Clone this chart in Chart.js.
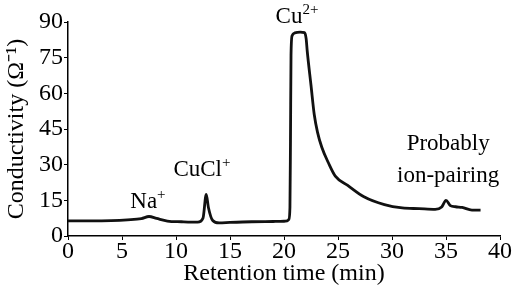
<!DOCTYPE html>
<html>
<head>
<meta charset="utf-8">
<script src="https://cdn.jsdelivr.net/npm/chart.js@4/dist/chart.umd.min.js"></script>
<style>
  html, body { margin: 0; padding: 0; background: #fff; }
  #wrap { width: 512px; height: 291px; }
</style>
</head>
<body>
<div id="wrap"><canvas id="chromatogram"></canvas></div>
<script>
// retention time (min) and conductivity
const retentionTime = [0, 2, 4, 5.5, 6.8, 7.5, 8.2, 9.2, 10.5, 12.0, 12.5, 12.8, 13.0, 13.4, 14.0, 15, 17, 19,
  20.0, 20.3, 20.45, 20.55, 20.6, 20.65, 20.75, 21.0, 21.5, 21.9, 22.05, 22.15, 22.5, 22.8, 23.1, 23.5, 24.1, 24.75,
  25.9, 27.4, 29.3, 30.95, 32.5, 34.0, 34.6, 35.0, 35.4, 35.9, 36.5, 37.4, 38.2]
const conductivity = [6.4, 6.4, 6.5, 6.8, 7.3, 8.2, 7.4, 6.3, 6.0, 5.8, 7.5, 17.5, 12, 6.5, 5.5, 5.7, 6.0, 6.1,
  6.2, 6.4, 7.0, 12, 40, 76, 84.2, 85.4, 85.7, 85.5, 83, 77.8, 63.4, 51.1, 43.7, 37.3, 30.9, 25.2,
  21.3, 16.5, 13.2, 11.8, 11.5, 11.2, 12.2, 15, 12.8, 12.3, 12.0, 10.9, 10.9]

const xTickValues = [0, 5, 10, 15, 20, 25, 30, 35, 40]
const yTickValues = [0, 15, 30, 45, 60, 75, 90]

const peakNames = ['Na', 'CuCl', 'Cu', 'Probably', 'ion-pairing']
const peakCharges = ['+', '+', '2+', '', '']

const SERIF = '"Liberation Serif", "Times New Roman", Times, serif'

// where each peak label sits, in data units (centre x, baseline y)
const labelAnchors = [
  { t: 7.4, v: 11.8 },
  { t: 12.4, v: 25.2 },
  { t: 21.2, v: 89.4 },
  { t: 35.2, v: 36 },
  { t: 35.2, v: 22.6 }
]

const peakLabelPlugin = {
  id: 'peakLabels',
  afterDatasetsDraw(chart) {
    const { ctx, scales: { x, y } } = chart
    ctx.save()
    ctx.fillStyle = '#000'
    ctx.textBaseline = 'alphabetic'
    peakNames.forEach((name, i) => {
      const a = labelAnchors[i]
      ctx.font = `23px ${SERIF}`
      const w1 = ctx.measureText(name).width
      ctx.font = `15px ${SERIF}`
      const w2 = peakCharges[i] ? ctx.measureText(peakCharges[i]).width : 0
      const left = x.getPixelForValue(a.t) - (w1 + w2) / 2
      const base = y.getPixelForValue(a.v)
      ctx.font = `23px ${SERIF}`
      ctx.fillText(name, left, base)
      if (peakCharges[i]) {
        ctx.font = `15px ${SERIF}`
        ctx.fillText(peakCharges[i], left + w1, base - 9)
      }
    })
    ctx.restore()
  }
}

new Chart(document.getElementById('chromatogram'), {
  type: 'line',
  data: {
    datasets: [{
      data: retentionTime.map((t, i) => ({ x: t, y: conductivity[i] })),
      borderColor: '#111',
      borderWidth: 2.8,
      pointRadius: 0,
      fill: false,
      cubicInterpolationMode: 'monotone'
    }]
  },
  options: {
    responsive: true,
    maintainAspectRatio: false,
    animation: false,
    layout: { padding: { top: 22, right: 12, left: 0, bottom: 0 } },
    plugins: { legend: { display: false }, tooltip: { enabled: false } },
    scales: {
      x: {
        type: 'linear',
        min: 0,
        max: 40,
        afterBuildTicks: s => { s.ticks = xTickValues.map(v => ({ value: v })) },
        afterFit: s => { s.height = 55 },
        ticks: { color: '#000', font: { family: SERIF, size: 24 }, padding: -3, maxRotation: 0, autoSkip: false },
        grid: { drawOnChartArea: false, tickLength: 4, color: '#000', lineWidth: 1 },
        border: { color: '#000', width: 1.5 },
        title: { display: true, text: 'Retention time (min)', color: '#000',
          font: { family: SERIF, size: 24 }, padding: { top: 0, bottom: 3 } }
      },
      y: {
        min: 0,
        max: 90,
        afterBuildTicks: s => { s.ticks = yTickValues.map(v => ({ value: v })) },
        afterFit: s => { s.width = 68 },
        ticks: { color: '#000', font: { family: SERIF, size: 24 }, padding: 1, autoSkip: false },
        grid: { drawOnChartArea: false, tickLength: 4, color: '#000', lineWidth: 1 },
        border: { color: '#000', width: 1.5 },
        title: { display: true, text: 'Conductivity (Ω⁻¹)', color: '#000',
          font: { family: SERIF, size: 24 }, padding: { top: 2, bottom: 0 } }
      }
    }
  },
  plugins: [peakLabelPlugin]
})
</script>
</body>
</html>
